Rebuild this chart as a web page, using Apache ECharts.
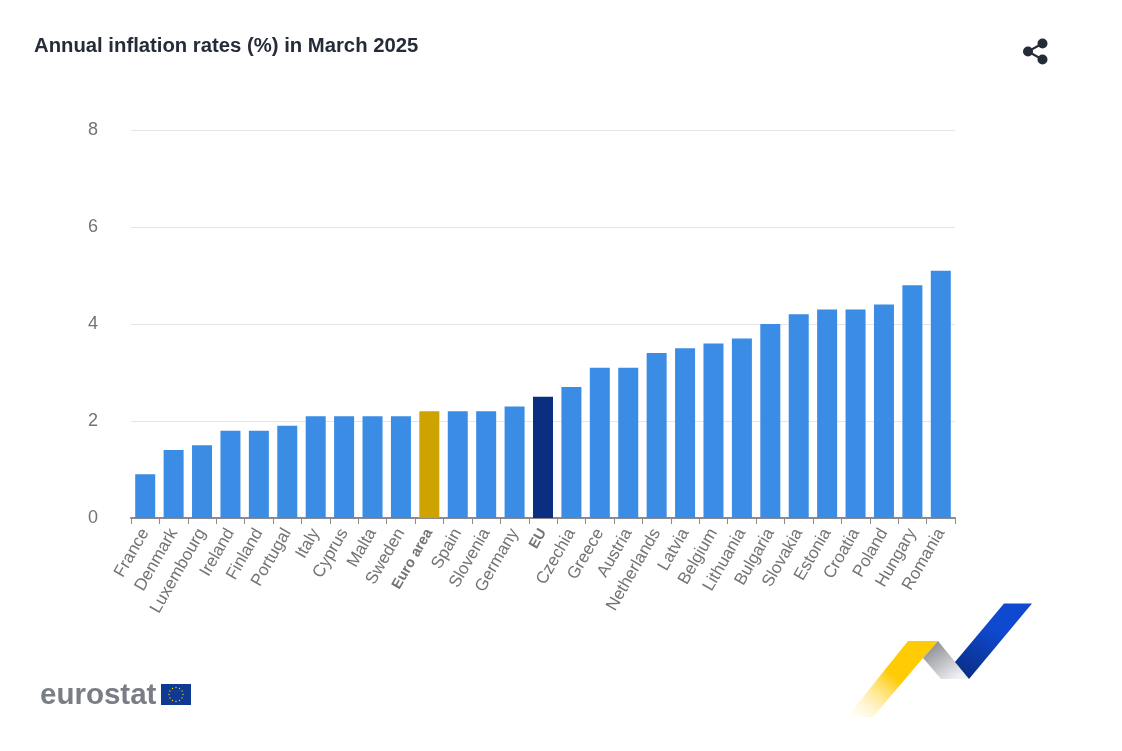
<!DOCTYPE html>
<html><head><meta charset="utf-8">
<style>html,body{margin:0;padding:0;background:#fff}#c{width:1122px;height:751px}</style>
<script src="https://cdn.jsdelivr.net/npm/echarts@6/dist/echarts.min.js"></script>
</head><body><div id="c"></div>
<script>
const titleText = 'Annual inflation rates (%) in March 2025';
const categories = ['France','Denmark','Luxembourg','Ireland','Finland','Portugal','Italy','Cyprus','Malta','Sweden','Euro area','Spain','Slovenia','Germany','EU','Czechia','Greece','Austria','Netherlands','Latvia','Belgium','Lithuania','Bulgaria','Slovakia','Estonia','Croatia','Poland','Hungary','Romania'];
const rates = [0.9,1.4,1.5,1.8,1.8,1.9,2.1,2.1,2.1,2.1,2.2,2.2,2.2,2.3,2.5,2.7,3.1,3.1,3.4,3.5,3.6,3.7,4.0,4.2,4.3,4.3,4.4,4.8,5.1];
const specialColors = {'Euro area':'#cca300','EU':'#0a2f80'};
const baseColor = '#3a8ce4';
const font = '"Liberation Sans", Arial, sans-serif';

const stars = [];
for (let i=0;i<12;i++){const a=i*Math.PI/6;stars.push({type:'circle',shape:{cx:176+7*Math.cos(a),cy:694.5+7*Math.sin(a),r:0.7},style:{fill:'#ffcc00'}});}
const grad=(x,y,x2,y2,a,b)=>({type:'linear',x,y,x2,y2,colorStops:[{offset:0,color:a},{offset:1,color:b}]});

const chart = echarts.init(document.getElementById('c'),null,{renderer:'canvas'});
chart.setOption({
  animation:false,
  backgroundColor:'#fff',
  title:{text:titleText,left:34,top:36,padding:0,textStyle:{fontFamily:font,fontSize:20.3,fontWeight:'bold',color:'#262b38'}},
  grid:{left:131,right:167,top:130,bottom:233},
  xAxis:{type:'category',data:categories.map(c=>specialColors[c]?{value:c,textStyle:{fontWeight:'bold',fontSize:14.5}}:c),
    axisLine:{lineStyle:{color:'#8a8a90',width:2}},
    axisTick:{show:true,length:6,alignWithLabel:false,lineStyle:{color:'#8a8a90',width:1}},
    axisLabel:{interval:0,rotate:60,fontFamily:font,fontSize:17,color:'#747474',margin:12}},
  yAxis:{type:'value',min:0,max:8,interval:2,
    axisLine:{show:false},axisTick:{show:false},
    splitLine:{lineStyle:{color:'#e6e6ea',width:1}},
    axisLabel:{fontFamily:font,fontSize:18,color:'#747474',margin:33}},
  series:[{type:'bar',barWidth:20,data:rates.map((v,i)=>({value:v,itemStyle:{color:specialColors[categories[i]]||baseColor}}))}],
  graphic:[
    {type:'group',children:[
      {type:'circle',shape:{cx:1028,cy:51.5,r:5},style:{fill:'#262b38'}},
      {type:'circle',shape:{cx:1042.5,cy:43.5,r:5},style:{fill:'#262b38'}},
      {type:'circle',shape:{cx:1042.5,cy:59.5,r:5},style:{fill:'#262b38'}},
      {type:'line',shape:{x1:1028,y1:51.5,x2:1042.5,y2:43.5},style:{stroke:'#262b38',lineWidth:2}},
      {type:'line',shape:{x1:1028,y1:51.5,x2:1042.5,y2:59.5},style:{stroke:'#262b38',lineWidth:2}}
    ]},
    {type:'text',x:40,y:681,style:{text:'eurostat',fontFamily:font,fontSize:29.5,fontWeight:'bold',fill:'#7a7d86'}},
    {type:'rect',shape:{x:161,y:684,width:30,height:21},style:{fill:'#0e3a94'}},
    ...stars,
    {type:'polygon',shape:{points:[[908,641],[938,641],[923,658],[873,717],[847,717]]},
      style:{fill:grad(0.5,0.45,0.1,1,'#ffcb05','rgba(255,240,190,0.15)')}},
    {type:'polygon',shape:{points:[[938,641],[969,679],[941,679],[923,658]]},
      style:{fill:grad(0.2,0.1,0.7,1,'#8f9194','#eef0f3')}},
    {type:'polygon',shape:{points:[[1004,603.5],[1032,603.5],[969,679],[955,662]]},
      style:{fill:grad(0.6,0.4,0.25,1,'#0f49cf','#0a2f8a')}}
  ]
});
</script></body></html>
